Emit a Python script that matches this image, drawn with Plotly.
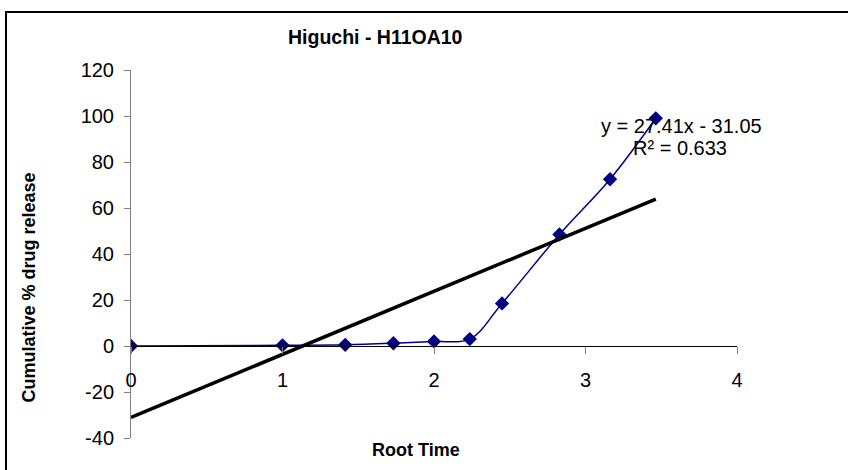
import plotly.graph_objects as go

# ---- data ----
root_time = [0.0, 1.0, 1.414, 1.732, 2.0, 2.236, 2.449, 2.828, 3.162, 3.464]
cum_release = [0.0, 0.3, 0.5, 1.2, 2.0, 3.0, 18.5, 48.5, 72.5, 99.0]
trend_slope = 27.41
trend_intercept = -31.05
trend_r2 = 0.633
x_tick_vals = [0, 1, 2, 3, 4]
y_tick_vals = [-40, -20, 0, 20, 40, 60, 80, 100, 120]

title_text = "Higuchi - H11OA10"
x_title = "Root Time"
y_title = "Cumulative % drug release"

FONT = "Liberation Sans, Arial, sans-serif"
W, H = 848, 470
L, R, T, B = 131, 111, 70, 32
PW, PH = W - L - R, H - T - B


def px_x(px):
    return (px - L) / PW


def px_y(py):
    return (H - B - py) / PH


trend_x = [min(root_time), max(root_time)]
trend_y = [trend_slope * v + trend_intercept for v in trend_x]

fig = go.Figure()
fig.add_trace(go.Scatter(
    x=root_time, y=cum_release, mode="lines+markers",
    line=dict(color="#000080", width=1.5, shape="spline"),
    marker=dict(symbol="diamond", size=11, color="#000080"),
    showlegend=False, hoverinfo="skip"))
fig.add_trace(go.Scatter(
    x=trend_x, y=trend_y, mode="lines",
    line=dict(color="black", width=3.5),
    showlegend=False, hoverinfo="skip"))

fig.update_layout(
    width=W, height=H,
    margin=dict(l=L, r=R, t=T, b=B, pad=0),
    paper_bgcolor="white", plot_bgcolor="white",
    font=dict(family=FONT, color="black", size=20),
    showlegend=False,
)
fig.update_xaxes(
    range=[0, 4], tickvals=x_tick_vals, ticktext=[str(v) for v in x_tick_vals],
    ticks="outside", ticklen=7,
    tickcolor="#808080", tickwidth=1,
    showline=True, linecolor="black", linewidth=1,
    showgrid=False, zeroline=False,
    anchor="free", position=0.25,
    tickfont=dict(family=FONT, size=20, color="black"),
    ticklabelstandoff=9,
)
fig.update_yaxes(
    range=[-40, 120], tickvals=y_tick_vals, ticktext=[str(v) for v in y_tick_vals],
    ticks="outside", ticklen=6,
    tickcolor="#808080", tickwidth=1,
    showline=True, linecolor="#808080", linewidth=1,
    showgrid=False, zeroline=False,
    tickfont=dict(family=FONT, size=20, color="black"),
    ticklabelstandoff=6,
)

annotations = [
    dict(text="<b>" + title_text + "</b>", x=px_x(375), y=px_y(37),
         font=dict(family=FONT, size=19.5)),
    dict(text="<b>" + x_title + "</b>", x=px_x(416), y=px_y(450),
         font=dict(family=FONT, size=18)),
    dict(text="<b>" + y_title + "</b>", x=px_x(28.5), y=px_y(288),
         textangle=-90, font=dict(family=FONT, size=18)),
    dict(text="y = %.2fx - %.2f" % (trend_slope, -trend_intercept),
         x=px_x(681), y=px_y(126), font=dict(family=FONT, size=20)),
    dict(text="R² = %.3f" % trend_r2, x=px_x(680), y=px_y(148),
         font=dict(family=FONT, size=20)),
]
for a in annotations:
    a.update(xref="paper", yref="paper", showarrow=False,
             xanchor="center", yanchor="middle")
fig.update_layout(annotations=annotations)

fig.add_shape(type="rect", xref="paper", yref="paper",
              x0=px_x(6), y0=px_y(490), x1=px_x(870), y1=px_y(12),
              line=dict(color="black", width=2), fillcolor="rgba(0,0,0,0)",
              layer="below")

fig.write_html("out.html", config={"displayModeBar": False},
               post_script="document.body.style.margin='0';document.body.style.overflow='hidden';")
